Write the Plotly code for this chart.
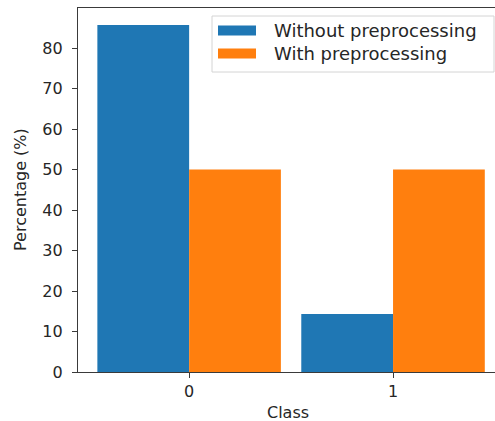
import plotly.graph_objects as go

classes = [0, 1]
without_pre = [85.7, 14.3]
with_pre = [50.0, 50.0]
series_names = ["Without preprocessing", "With preprocessing"]
colors = ["#1f77b4", "#ff7f0e"]
y_ticks = [0, 10, 20, 30, 40, 50, 60, 70, 80]

W, H = 495, 421
L, R, T, B = 78, 0, 8, 49
PW, PH = W - L - R, H - T - B

def px(x):
    return (x - L) / PW

def py(y):
    return (H - B - y) / PH

FONT = "DejaVu Sans"
TXT = "#262626"

fig = go.Figure()
fig.add_trace(go.Bar(x=classes, y=without_pre, name=series_names[0],
                     marker=dict(color=colors[0], line=dict(width=0))))
fig.add_trace(go.Bar(x=classes, y=with_pre, name=series_names[1],
                     marker=dict(color=colors[1], line=dict(width=0))))

fig.update_layout(
    width=W, height=H,
    margin=dict(l=L, r=R, t=T, b=B, pad=0),
    paper_bgcolor="white", plot_bgcolor="white",
    barmode="group", bargap=0.1, bargroupgap=0,
    showlegend=False,
    font=dict(family=FONT, size=16, color=TXT),
)
fig.update_xaxes(
    range=[-0.545, 1.5], tickvals=classes, ticktext=[str(c) for c in classes],
    showgrid=False, zeroline=False,
    showline=True, linecolor="#3a3a3a", linewidth=1.3, mirror=True,
    ticks="outside", ticklen=5, tickcolor="#3a3a3a", tickwidth=1,
    tickfont=dict(family=FONT, size=16, color=TXT),
)
fig.update_yaxes(
    range=[0, 89.9], tickvals=y_ticks,
    showgrid=False, zeroline=False,
    showline=True, linecolor="#3a3a3a", linewidth=1.3,
    ticks="outside", ticklen=5, tickcolor="#3a3a3a", tickwidth=1,
    tickfont=dict(family=FONT, size=16, color=TXT),
    ticklabelstandoff=6,
)

# axis titles
fig.add_annotation(text="Class", xref="paper", yref="paper",
                   x=px(288), y=py(412), showarrow=False,
                   font=dict(family=FONT, size=16, color=TXT),
                   xanchor="center", yanchor="middle")
fig.add_annotation(text="Percentage (%)", xref="paper", yref="paper",
                   x=px(20), y=py(190), showarrow=False, textangle=-90,
                   font=dict(family=FONT, size=16, color=TXT),
                   xanchor="center", yanchor="middle")

# legend box
fig.add_shape(type="rect", xref="paper", yref="paper",
              x0=px(212), x1=px(494), y0=py(16), y1=py(72),
              line=dict(color="#d4d4d4", width=1), fillcolor="rgba(255,255,255,0.8)")
for i, (name, col) in enumerate(zip(series_names, colors)):
    yc = 30.5 + i * 23
    fig.add_shape(type="rect", xref="paper", yref="paper",
                  x0=px(218), x1=px(256), y0=py(yc - 5), y1=py(yc + 5),
                  line=dict(width=0), fillcolor=col)
    fig.add_annotation(text=name, xref="paper", yref="paper",
                       x=px(272), y=py(yc), showarrow=False,
                       font=dict(family=FONT, size=18, color=TXT),
                       xanchor="left", yanchor="middle")

fig.write_html("out.html", config={"displayModeBar": False},
               post_script="document.body.style.margin='0';document.body.style.overflow='hidden';")
